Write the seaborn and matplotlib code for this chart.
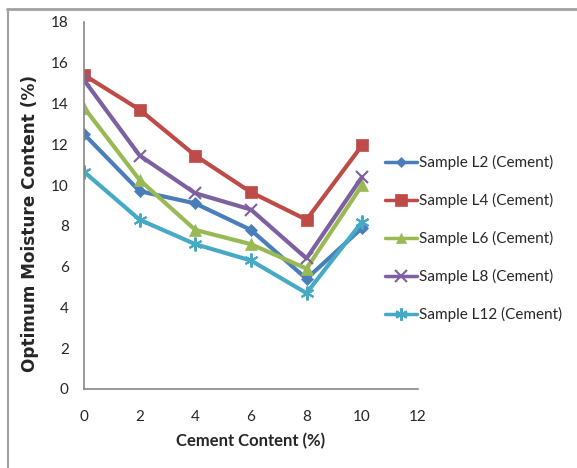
import matplotlib
matplotlib.use("Agg")
import matplotlib.pyplot as plt
import seaborn as sns
import pandas as pd
from matplotlib.lines import Line2D

cement = [0, 2, 4, 6, 8, 10]
l2 = [12.5, 9.7, 9.1, 7.8, 5.4, 7.9]
l4 = [15.4, 13.7, 11.45, 9.65, 8.3, 11.95]
l6 = [13.8, 10.25, 7.8, 7.1, 5.9, 10.0]
l8 = [15.15, 11.45, 9.6, 8.8, 6.4, 10.4]
l12 = [10.65, 8.3, 7.1, 6.3, 4.7, 8.2]
labels = ["Sample L2 (Cement)", "Sample L4 (Cement)", "Sample L6 (Cement)",
          "Sample L8 (Cement)", "Sample L12 (Cement)"]
x_ticks = [0, 2, 4, 6, 8, 10, 12]
y_ticks = [0, 2, 4, 6, 8, 10, 12, 14, 16, 18]

colors = ["#4A7EBB", "#BE4B48", "#98B954", "#7D60A0", "#46AAC5"]
markers = ["D", "s", "^", "x", (6, 2, 0)]
msizes = [6, 9, 8, 9, 10]

rows = []
for lab, vals in zip(labels, [l2, l4, l6, l8, l12]):
    for c, v in zip(cement, vals):
        rows.append({"Cement": c, "OMC": v, "Sample": lab})
df = pd.DataFrame(rows)

sns.set_style("white")
plt.rcParams["font.family"] = ["Lato", "DejaVu Sans"]

fig = plt.figure(figsize=(5.77, 4.68), dpi=100)
ax = fig.add_axes([0.1456, 0.169, 0.5784, 0.784])

for i, lab in enumerate(labels):
    sub = df[df["Sample"] == lab]
    sns.lineplot(data=sub, x="Cement", y="OMC", ax=ax, color=colors[i],
                 marker=markers[i], markersize=msizes[i], linewidth=3,
                 markeredgecolor=colors[i], markeredgewidth=1.5 if i >= 3 else 0.5,
                 legend=False, sort=False)

ax.set_xlim(0, 12)
ax.set_ylim(0, 18)
ax.set_xticks(x_ticks)
ax.set_yticks(y_ticks)
ax.tick_params(axis="both", direction="out", length=5, width=1, color="#888888",
               labelsize=11, pad=6)
ax.tick_params(axis="x", pad=10)
for s in ["top", "right"]:
    ax.spines[s].set_visible(False)
for s in ["left", "bottom"]:
    ax.spines[s].set_color("#888888")
    ax.spines[s].set_linewidth(1.2)
ax.set_xlabel("Cement Content (%)", fontsize=12, fontweight="bold", labelpad=7)
ax.set_ylabel("Optimum Moisture Content (%)", fontsize=12.2, fontweight="bold",
              family=["DejaVu Sans"])
ax.yaxis.set_label_coords(-0.135, 0.45)

handles = [Line2D([0], [0], color=colors[i], marker=markers[i], markersize=msizes[i] - 1,
                  linewidth=2.5, markeredgecolor=colors[i],
                  markeredgewidth=1.5 if i >= 3 else 0.5) for i in range(5)]
fig.legend(handles, labels, loc="upper left", bbox_to_anchor=(0.643, 0.698),
           frameon=False, fontsize=11, handlelength=2.1, handletextpad=0.15,
           labelspacing=1.5)

fig.add_artist(Line2D([0.012, 1.0], [0.981, 0.981], color="#A0A0A8", linewidth=2,
                      transform=fig.transFigure))
fig.add_artist(Line2D([0.013, 0.013], [0.0, 0.981], color="#A0A0A8", linewidth=1.5,
                      transform=fig.transFigure))

fig.savefig("out.png", dpi=100)
